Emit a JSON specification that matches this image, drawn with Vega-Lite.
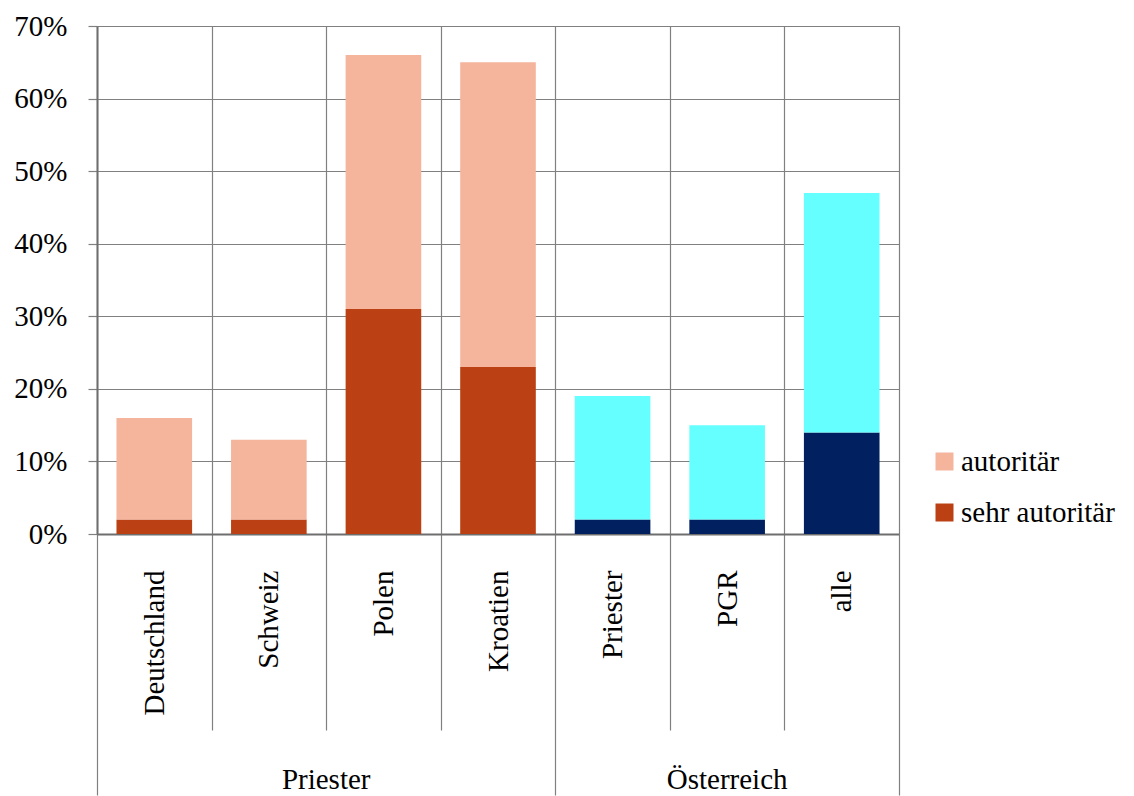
{
  "$schema": "https://vega.github.io/schema/vega-lite/v6.json",
  "width": 802,
  "height": 508,
  "autosize": {"type": "none"},
  "padding": {"left": 97, "top": 26, "right": 235, "bottom": 262},
  "background": "white",
  "config": {
    "font": "Liberation Serif",
    "view": {"stroke": null},
    "axis": {"labelFont": "Liberation Serif", "labelFontSize": 29, "labelColor": "black", "gridColor": "#808080", "gridWidth": 1.2, "tickColor": "#808080", "tickWidth": 1.2, "domainColor": "#6e6e6e", "domainWidth": 2}
  },
  "data": {
    "values": [
      {"kat": "Deutschland", "gruppe": "Priester", "stufe": "sehr autoritär", "serie": "sehr autoritär", "wert": 2},
      {"kat": "Deutschland", "gruppe": "Priester", "stufe": "autoritär", "serie": "autoritär", "wert": 14},
      {"kat": "Schweiz", "gruppe": "Priester", "stufe": "sehr autoritär", "serie": "sehr autoritär", "wert": 2},
      {"kat": "Schweiz", "gruppe": "Priester", "stufe": "autoritär", "serie": "autoritär", "wert": 11},
      {"kat": "Polen", "gruppe": "Priester", "stufe": "sehr autoritär", "serie": "sehr autoritär", "wert": 31},
      {"kat": "Polen", "gruppe": "Priester", "stufe": "autoritär", "serie": "autoritär", "wert": 35},
      {"kat": "Kroatien", "gruppe": "Priester", "stufe": "sehr autoritär", "serie": "sehr autoritär", "wert": 23},
      {"kat": "Kroatien", "gruppe": "Priester", "stufe": "autoritär", "serie": "autoritär", "wert": 42},
      {"kat": "Priester", "gruppe": "Österreich", "stufe": "sehr autoritär", "serie": "sehr autoritär Ö", "wert": 2},
      {"kat": "Priester", "gruppe": "Österreich", "stufe": "autoritär", "serie": "autoritär Ö", "wert": 17},
      {"kat": "PGR", "gruppe": "Österreich", "stufe": "sehr autoritär", "serie": "sehr autoritär Ö", "wert": 2},
      {"kat": "PGR", "gruppe": "Österreich", "stufe": "autoritär", "serie": "autoritär Ö", "wert": 13},
      {"kat": "alle", "gruppe": "Österreich", "stufe": "sehr autoritär", "serie": "sehr autoritär Ö", "wert": 14},
      {"kat": "alle", "gruppe": "Österreich", "stufe": "autoritär", "serie": "autoritär Ö", "wert": 33}
    ]
  },
  "layer": [
    {
      "mark": {"type": "bar", "width": {"band": 0.66}},
      "encoding": {
        "x": {
          "field": "kat", "type": "nominal",
          "scale": {"domain": ["Deutschland", "Schweiz", "Polen", "Kroatien", "Priester", "PGR", "alle"], "paddingInner": 0, "paddingOuter": 0},
          "axis": {"orient": "bottom", "title": null, "tickBand": "extent",
            "tickSize": {"expr": "(!datum.value || datum.value == 'Kroatien' || datum.value == 'alle') ? 261 : 196"},
            "labelPadding": {"expr": "(!datum.value || datum.value == 'Kroatien' || datum.value == 'alle') ? -225 : -160"},
            "grid": true, "labelAngle": -90, "labelAlign": "right", "labelBaseline": "middle"}
        },
        "y": {
          "field": "wert", "type": "quantitative", "stack": "zero",
          "scale": {"domain": [0, 70], "nice": false},
          "axis": {"title": null, "values": [0, 10, 20, 30, 40, 50, 60, 70], "labelExpr": "datum.value + '%'", "grid": true, "tickSize": 9, "labelPadding": 21}
        },
        "color": {
          "field": "serie", "type": "nominal",
          "scale": {"domain": ["autoritär", "sehr autoritär", "autoritär Ö", "sehr autoritär Ö"], "range": ["#F4B59C", "#BB4114", "#66FFFF", "#002060"]},
          "legend": {"values": ["autoritär", "sehr autoritär"], "title": null, "orient": "none", "legendX": 833, "legendY": 421, "symbolType": "square", "symbolSize": 324, "symbolStrokeWidth": 0, "labelFont": "Liberation Serif", "labelFontSize": 29, "labelColor": "black", "rowPadding": 21, "labelOffset": 2}
        },
        "order": {"field": "stufe", "sort": "descending"}
      }
    },
    {
      "mark": {"type": "rule", "opacity": 0},
      "encoding": {
        "x": {
          "field": "kat", "type": "nominal",
          "scale": {"domain": ["Deutschland", "Schweiz", "Polen", "Kroatien", "Priester", "PGR", "alle"], "paddingInner": 0, "paddingOuter": 0},
          "axis": {"orient": "bottom", "title": null, "values": ["Deutschland", "Priester"], "ticks": false, "grid": false, "domain": false, "labelAngle": 0, "labelAlign": "center", "labelBaseline": "top", "labelPadding": 231, "labelExpr": "datum.value == 'Deutschland' ? 'Priester' : 'Österreich'", "labelOffset": {"expr": "datum.value == 'Deutschland' ? 171.9 : 114.6"}}
        }
      }
    }
  ],
  "resolve": {"axis": {"x": "independent"}}
}
